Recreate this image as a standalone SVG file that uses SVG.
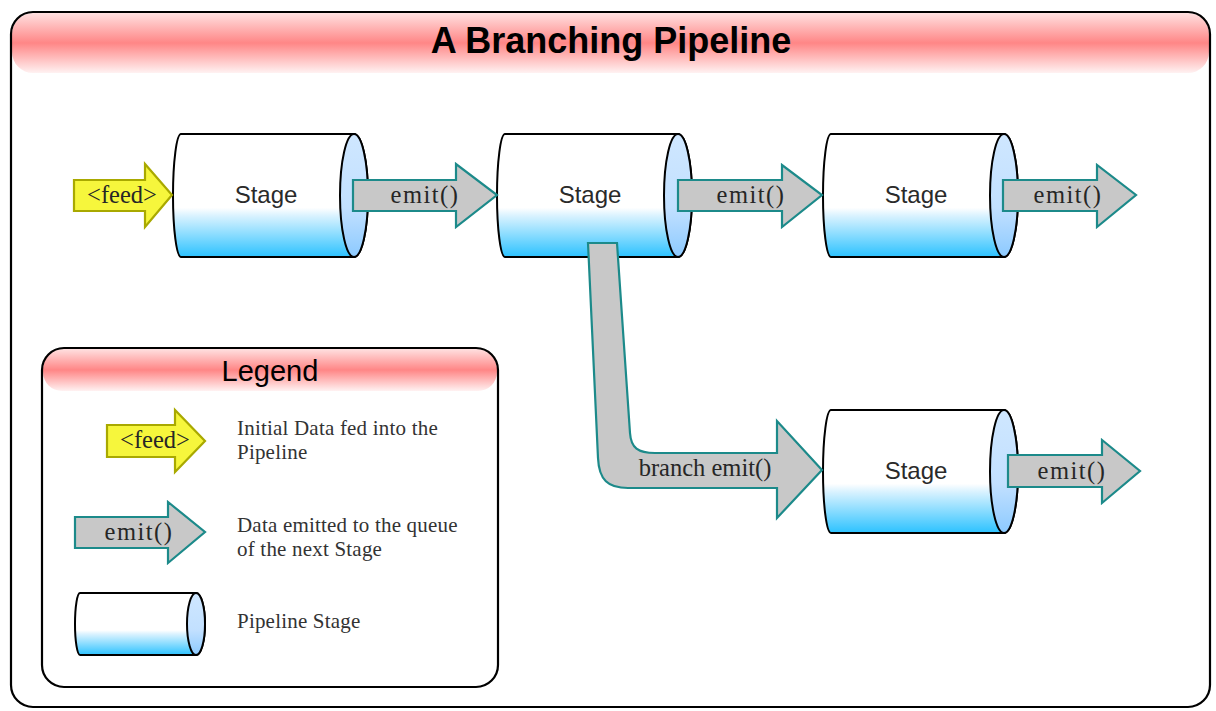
<svg xmlns="http://www.w3.org/2000/svg" xmlns:xlink="http://www.w3.org/1999/xlink" width="1216" height="711" viewBox="0 0 1216 711">
<style>
.frame{fill:none;stroke:#000;stroke-width:2.2}
.band{fill:url(#gBand)}
.body{fill:url(#gBody);stroke:#000;stroke-width:2}
.cap{fill:url(#gCap);stroke:#000;stroke-width:2}
.emit{fill:#c8c8c8;stroke:#1c8a8a;stroke-width:2.2;stroke-linejoin:miter}
.feed{fill:#f6f63c;stroke:#a9a900;stroke-width:2.2}
.sans{font-family:"Liberation Sans",Arial,sans-serif}
.serif{font-family:"Liberation Serif","Times New Roman",serif}
.stage{font-size:24px;fill:#2a2a2a;text-anchor:middle}
.lbl{font-size:24.5px;fill:#262626;text-anchor:middle}
.sp{letter-spacing:1.5px}
.leg{font-size:21px;fill:#333;letter-spacing:0.2px}
</style>
<defs>
<linearGradient id="gBand" x1="0" y1="0" x2="0" y2="1">
<stop offset="0" stop-color="#ffe0e0"/>
<stop offset="0.5" stop-color="#ff8686"/>
<stop offset="1" stop-color="#fff2f2"/>
</linearGradient>
<linearGradient id="gBody" x1="0" y1="0" x2="0" y2="1">
<stop offset="0" stop-color="#ffffff"/>
<stop offset="0.6" stop-color="#ffffff"/>
<stop offset="0.66" stop-color="#dcf3ff"/>
<stop offset="1" stop-color="#2cc2ff"/>
</linearGradient>
<linearGradient id="gCap" x1="0" y1="0" x2="0" y2="1">
<stop offset="0" stop-color="#cfe7ff"/>
<stop offset="0.6" stop-color="#c2e0ff"/>
<stop offset="1" stop-color="#8ccaff"/>
</linearGradient>
<g id="cyl">
<path class="body" d="M8,0 L181,0 A14,61.5 0 0 1 181,123 L8,123 A8,61.5 0 0 1 8,0 Z"/>
<ellipse class="cap" cx="181" cy="61.5" rx="14" ry="61.5"/>
</g>
</defs>

<rect x="11" y="12" width="1199" height="695" rx="22" fill="#fff"/>
<rect class="band" x="12" y="13" width="1197" height="60" rx="21"/>
<rect class="frame" x="11" y="12" width="1199" height="695" rx="22"/>
<text class="sans" x="611" y="53" font-size="36" font-weight="bold" text-anchor="middle" fill="#000">A Branching Pipeline</text>

<g id="stage1">
<use xlink:href="#cyl" transform="translate(173,134)"/>
<text class="sans stage" x="266" y="203">Stage</text>
</g>
<g id="stage2">
<use xlink:href="#cyl" transform="translate(497,134)"/>
<text class="sans stage" x="590" y="203">Stage</text>
</g>
<g id="stage3">
<use xlink:href="#cyl" transform="translate(823,134)"/>
<text class="sans stage" x="916" y="203">Stage</text>
</g>
<g id="stage4">
<use xlink:href="#cyl" transform="translate(823,410)"/>
<text class="sans stage" x="916" y="479">Stage</text>
</g>

<g id="connectors">
<g id="feed">
<polygon class="feed" points="74,180 145,180 145,164 172,195 145,227 145,211 74,211"/>
<text class="serif lbl" x="122" y="203">&lt;feed&gt;</text>
</g>
<g id="emit1">
<polygon class="emit" points="353,180 456,180 456,164 497,195 456,227 456,211 353,211"/>
<text class="serif lbl sp" x="425" y="203">emit()</text>
</g>
<g id="emit2">
<polygon class="emit" points="678,180 782,180 782,165 822,195 782,227 782,211 678,211"/>
<text class="serif lbl sp" x="751" y="203">emit()</text>
</g>
<g id="emit3">
<polygon class="emit" points="1003,180 1097,180 1097,165 1136,195 1097,227 1097,211 1003,211"/>
<text class="serif lbl sp" x="1068" y="203">emit()</text>
</g>
<g id="emit4">
<polygon class="emit" points="1008,455 1102,455 1102,440 1140,471 1102,503 1102,487 1008,487"/>
<text class="serif lbl sp" x="1072" y="479">emit()</text>
</g>
<g id="branch">
<path class="emit" d="M588,243 L617,243 L630,433 C631,448 638,453 655,453 L777,453 L777,421 L822,470 L777,518 L777,488 L628,488 C608,488 599,480 598,458 Z"/>
<text class="serif lbl" x="705" y="476">branch emit()</text>
</g>
</g>

<g id="legend">
<rect x="42" y="348" width="456" height="339" rx="22" fill="#fff"/>
<rect class="band" x="43" y="349" width="454" height="42" rx="19"/>
<rect class="frame" x="42" y="348" width="456" height="339" rx="22"/>
<text class="sans" x="270" y="381" font-size="29" text-anchor="middle" fill="#000">Legend</text>
<polygon class="feed" points="107,425 175,425 175,410 205,441 175,472 175,457 107,457"/>
<text class="serif lbl" x="155" y="448">&lt;feed&gt;</text>
<polygon class="emit" points="75,517 168,517 168,502 205,532 168,563 168,548 75,548"/>
<text class="serif lbl sp" x="139" y="540">emit()</text>
<path class="body" d="M80,593 L196,593 A9,31 0 0 1 196,655 L80,655 A5,31 0 0 1 80,593 Z"/>
<ellipse class="cap" cx="196" cy="624" rx="9" ry="31"/>
<text class="serif leg" x="237" y="435">Initial Data fed into the</text>
<text class="serif leg" x="237" y="459">Pipeline</text>
<text class="serif leg" x="237" y="532">Data emitted to the queue</text>
<text class="serif leg" x="237" y="556">of the next Stage</text>
<text class="serif leg" x="237" y="628">Pipeline Stage</text>
</g>
</svg>
